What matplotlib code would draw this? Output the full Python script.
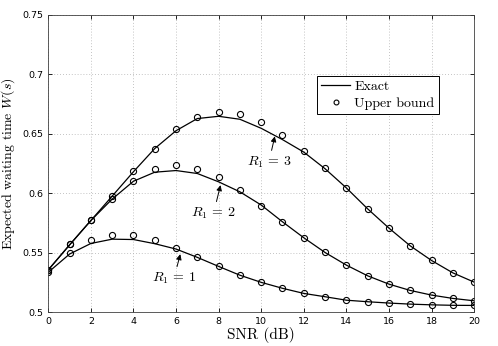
import matplotlib
matplotlib.use("Agg")
import matplotlib.pyplot as plt
from matplotlib.lines import Line2D

snr = list(range(21))

exact_r1 = [0.5335, 0.5488, 0.5577, 0.5613, 0.5610, 0.5575, 0.5530, 0.5460, 0.5384, 0.5310,
            0.5250, 0.5200, 0.5157, 0.5129, 0.5100, 0.5087, 0.5076, 0.5067, 0.5061, 0.5057, 0.5056]
bound_r1 = [0.5335, 0.5496, 0.5602, 0.5650, 0.5647, 0.5607, 0.5540, 0.5460, 0.5384, 0.5310,
            0.5250, 0.5200, 0.5157, 0.5129, 0.5100, 0.5087, 0.5076, 0.5067, 0.5061, 0.5056, 0.5056]

exact_r2 = [0.5355, 0.5565, 0.5770, 0.5950, 0.6100, 0.6176, 0.6190, 0.6165, 0.6095, 0.6011,
            0.5900, 0.5759, 0.5625, 0.5501, 0.5395, 0.5305, 0.5235, 0.5182, 0.5143, 0.5115, 0.5095]
bound_r2 = [0.5355, 0.5569, 0.5770, 0.5952, 0.6103, 0.6200, 0.6235, 0.6207, 0.6134, 0.6025,
            0.5896, 0.5759, 0.5625, 0.5501, 0.5395, 0.5305, 0.5235, 0.5182, 0.5143, 0.5115, 0.5095]

exact_r3 = [0.5355, 0.5565, 0.5770, 0.5975, 0.6180, 0.6375, 0.6525, 0.6627, 0.6646, 0.6621,
            0.6545, 0.6450, 0.6345, 0.6205, 0.6044, 0.5868, 0.5706, 0.5557, 0.5434, 0.5330, 0.5252]
bound_r3 = [0.5355, 0.5569, 0.5770, 0.5980, 0.6185, 0.6375, 0.6537, 0.6644, 0.6686, 0.6666,
            0.6594, 0.6490, 0.6356, 0.6213, 0.6044, 0.5868, 0.5706, 0.5557, 0.5434, 0.5330, 0.5252]

labels = [r"$R_1\, =\, 1$", r"$R_1\, =\, 2$", r"$R_1\, =\, 3$"]
# (text x, text y, arrow tip x, arrow tip y)
label_pos = [(5.9, 0.5283, 6.2, 0.5487), (7.76, 0.583, 8.09, 0.6067), (10.36, 0.626, 10.64, 0.6478)]

plt.rcParams["mathtext.fontset"] = "cm"
serif = "cmr10"

fig = plt.figure(figsize=(4.98, 3.46), dpi=100)
ax = fig.add_axes([0.097, 0.098, 0.855, 0.8595])

for ex, ub in [(exact_r1, bound_r1), (exact_r2, bound_r2), (exact_r3, bound_r3)]:
    ax.plot(snr, ex, color="black", lw=0.9)
    ax.plot(snr, ub, ls="none", marker="o", ms=4.4, mfc="none", mec="black", mew=0.8)

for lab, (tx, ty, ax_, ay) in zip(labels, label_pos):
    ax.annotate(lab, xy=(ax_, ay), xytext=(tx, ty), ha="center", va="center", fontsize=10,
                arrowprops=dict(arrowstyle="-|>", color="black", lw=0.7, mutation_scale=8,
                                shrinkA=1, shrinkB=0))

ax.set_xlim(0, 20)
ax.set_ylim(0.5, 0.75)
ax.set_xticks(range(0, 21, 2))
ax.set_yticks([0.5, 0.55, 0.6, 0.65, 0.7, 0.75])
ax.set_yticklabels(["0.5", "0.55", "0.6", "0.65", "0.7", "0.75"])
ax.tick_params(direction="in", top=True, right=True, labelsize=6.8, length=3, width=0.6)
ax.grid(True, ls=(0, (1, 2.5)), color="#b0b0b0", lw=0.6)
for s in ax.spines.values():
    s.set_linewidth(0.6)
    s.set_color("#404040")

ax.set_xlabel("SNR (dB)", fontfamily=serif, fontsize=11, labelpad=1)
ax.set_ylabel(r"Expected waiting time $W(s)$", fontfamily=serif, fontsize=10, labelpad=4)

handles = [Line2D([], [], color="black", lw=0.9),
           Line2D([], [], ls="none", marker="o", ms=3.5, mfc="none", mec="black", mew=0.8)]
leg = ax.legend(handles, ["Exact", "Upper bound"], loc="upper left",
                bbox_to_anchor=(0.631, 0.794), prop={"family": serif, "size": 10},
                fancybox=False, edgecolor="black", framealpha=1, borderpad=0.3,
                handlelength=2.1, handletextpad=0.3, labelspacing=0.3, borderaxespad=0)
leg.get_frame().set_linewidth(0.7)

fig.savefig("out.png", dpi=100)
